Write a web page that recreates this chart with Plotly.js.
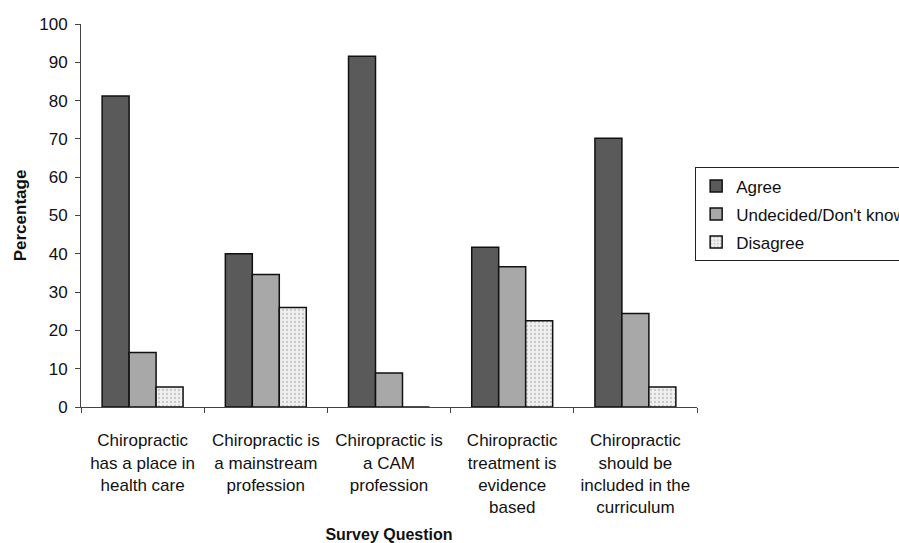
<!DOCTYPE html>
<html>
<head>
<meta charset="utf-8">
<script src="https://cdn.plot.ly/plotly-3.0.1.min.js"></script>
<style>html,body{margin:0;padding:0;background:#fff;}#chart{width:899px;height:543px;}</style>
</head>
<body>
<div id="chart"></div>
<script>
const categories = [
  "Chiropractic<br>has a place in<br>health care",
  "Chiropractic is<br>a mainstream<br>profession",
  "Chiropractic is<br>a CAM<br>profession",
  "Chiropractic<br>treatment is<br>evidence<br>based",
  "Chiropractic<br>should be<br>included in the<br>curriculum"
];
const seriesNames = ["Agree", "Undecided/Don't know", "Disagree"];
const agree = [81.2, 40.0, 91.6, 41.7, 70.2];
const undecided = [14.2, 34.6, 8.9, 36.6, 24.4];
const disagree = [5.2, 26.0, 0, 22.5, 5.2];

const font = "Arial, 'Liberation Sans', sans-serif";
const outline = {color: "#111", width: 1.5};

const traces = [
  {type: "bar", name: seriesNames[0], x: categories, y: agree, legendgroup: "g1",
   marker: {color: "#5a5a5a", line: outline}},
  {type: "bar", name: seriesNames[1], x: categories, y: undecided, legendgroup: "g2",
   marker: {color: "#a8a8a8", line: outline}},
  {type: "bar", name: seriesNames[2], x: categories, y: disagree, legendgroup: "g3",
   marker: {color: "#f2f2f2", line: outline,
            pattern: {shape: ".", fgcolor: "#c8c8c8", bgcolor: "#f0f0f0", size: 4, solidity: 0.25}}}
];

const layout = {
  width: 899, height: 543,
  paper_bgcolor: "#fff", plot_bgcolor: "#fff",
  margin: {l: 81, r: 202, t: 24, b: 136, autoexpand: false},
  font: {family: font, size: 17, color: "#111"},
  barmode: "group", bargap: 0.343, bargroupgap: 0,
  showlegend: true,
  legend: {x: 0.997, xanchor: "left", y: 0.503, yanchor: "middle",
           traceorder: "grouped", tracegroupgap: 3,
           bordercolor: "#222", borderwidth: 1, bgcolor: "#fff",
           font: {family: font, size: 17, color: "#111"}},
  xaxis: {type: "category", tickson: "boundaries", ticks: "outside", ticklen: 5,
          tickcolor: "#444", showline: true, linecolor: "#444", linewidth: 1,
          showgrid: false, automargin: false, tickangle: 0, ticklabelstandoff: 18,
          tickfont: {family: font, size: 17, color: "#111"},
          title: {text: "<b>Survey Question</b>", font: {family: font, size: 16, color: "#111"}, standoff: 14}},
  yaxis: {range: [0, 100], dtick: 10, ticks: "outside", ticklen: 5, tickcolor: "#444",
          showline: true, linecolor: "#444", linewidth: 1, showgrid: false, zeroline: false,
          automargin: false, ticklabelstandoff: 4,
          tickfont: {family: font, size: 17, color: "#111"},
          title: {text: "<b>Percentage</b>", font: {family: font, size: 17, color: "#111"}, standoff: 8}}
};

Plotly.newPlot("chart", traces, layout, {displayModeBar: false, staticPlot: true});
</script>
</body>
</html>
